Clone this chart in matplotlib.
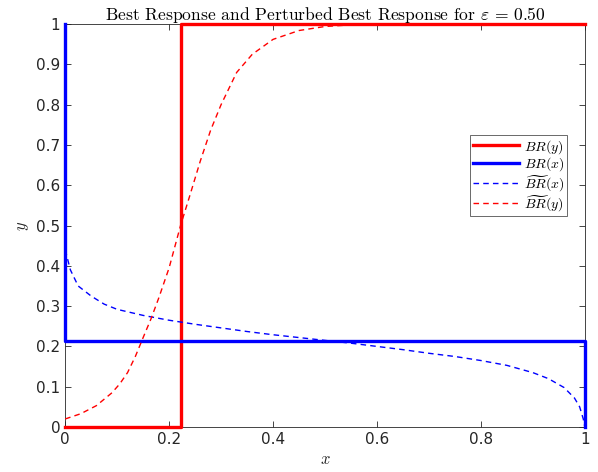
import matplotlib
matplotlib.use("Agg")
import matplotlib.pyplot as plt
from matplotlib.ticker import FormatStrFormatter, MultipleLocator

plt.rcParams['mathtext.fontset'] = 'cm'

# Best response step functions
br_y_x = [0, 0.222, 0.222, 1]
br_y_y = [0, 0, 1, 1]
br_x_x = [0, 0, 1, 1]
br_x_y = [1, 0.214, 0.214, 0]

# Perturbed best response of x (blue dashed)
pbr_x_x = [0.0, 0.003, 0.01, 0.025, 0.05, 0.075, 0.1, 0.15, 0.2, 0.25, 0.3, 0.35, 0.4, 0.45,
           0.5, 0.55, 0.6, 0.65, 0.7, 0.75, 0.8, 0.85, 0.9, 0.93, 0.96, 0.98, 0.99, 0.997, 1.0]
pbr_x_y = [0.44, 0.425, 0.39, 0.35, 0.325, 0.305, 0.292, 0.277, 0.265, 0.255, 0.246, 0.237, 0.229, 0.222,
           0.215, 0.208, 0.200, 0.192, 0.183, 0.175, 0.165, 0.153, 0.135, 0.120, 0.098, 0.072, 0.05, 0.02, 0.0]

# Perturbed best response of y (red dashed)
pbr_y_x = [0.0, 0.03, 0.06, 0.09, 0.105, 0.12, 0.135, 0.15, 0.165, 0.18, 0.2, 0.222, 0.24, 0.26, 0.28, 0.3, 0.33,
           0.36, 0.4, 0.45, 0.5, 0.55, 0.6, 0.7, 0.8, 0.9, 1.0]
pbr_y_y = [0.020, 0.033, 0.053, 0.085, 0.107, 0.135, 0.175, 0.222, 0.268, 0.32, 0.395, 0.50, 0.575, 0.66, 0.737, 0.80, 0.88,
           0.925, 0.962, 0.984, 0.994, 0.998, 0.999, 1.0, 1.0, 1.0, 1.0]

fig = plt.figure(figsize=(5.98, 4.72), dpi=100)
ax = fig.add_axes([0.109, 0.0953, 0.869, 0.8537])

ax.plot(br_y_x, br_y_y, color='#ff0000', lw=2.4, label=r'$BR(y)$', clip_on=False, zorder=3)
ax.plot(br_x_x, br_x_y, color='#0000ff', lw=2.4, label=r'$BR(x)$', clip_on=False, zorder=3)
ax.plot(pbr_x_x, pbr_x_y, color='#0000ff', lw=1.0, ls=(0, (4, 3)), label=r'$\widetilde{BR}(x)$', zorder=3)
ax.plot(pbr_y_x, pbr_y_y, color='#ff0000', lw=1.0, ls=(0, (4, 3)), label=r'$\widetilde{BR}(y)$', zorder=3)

ax.set_xlim(0, 1)
ax.set_ylim(0, 1)
ax.xaxis.set_major_locator(MultipleLocator(0.2))
ax.yaxis.set_major_locator(MultipleLocator(0.1))
ax.xaxis.set_major_formatter(FormatStrFormatter('%g'))
ax.yaxis.set_major_formatter(FormatStrFormatter('%g'))
ax.tick_params(direction='in', top=True, right=True, length=4, width=0.6,
               colors='#262626', labelsize=11, labelcolor='#262626')
for s in ax.spines.values():
    s.set_color('#262626')
    s.set_linewidth(0.6)

ax.set_title(r'Best Response and Perturbed Best Response for $\varepsilon\,=\,0.50$',
             fontfamily='cmr10', fontsize=12.6, pad=3)
ax.set_xlabel(r'$x$', fontsize=12, color='#262626', labelpad=2)
ax.set_ylabel(r'$y$', fontsize=12, color='#262626', labelpad=4)

leg = ax.legend(loc='upper left', bbox_to_anchor=(0.786, 0.714), bbox_transform=fig.transFigure,
                fontsize=10, frameon=True, fancybox=False, edgecolor='#262626',
                handlelength=3.3, handletextpad=0.35, borderpad=0.2, labelspacing=0.0,
                borderaxespad=0)
leg.get_frame().set_linewidth(0.6)

fig.savefig('out.png', dpi=100)
